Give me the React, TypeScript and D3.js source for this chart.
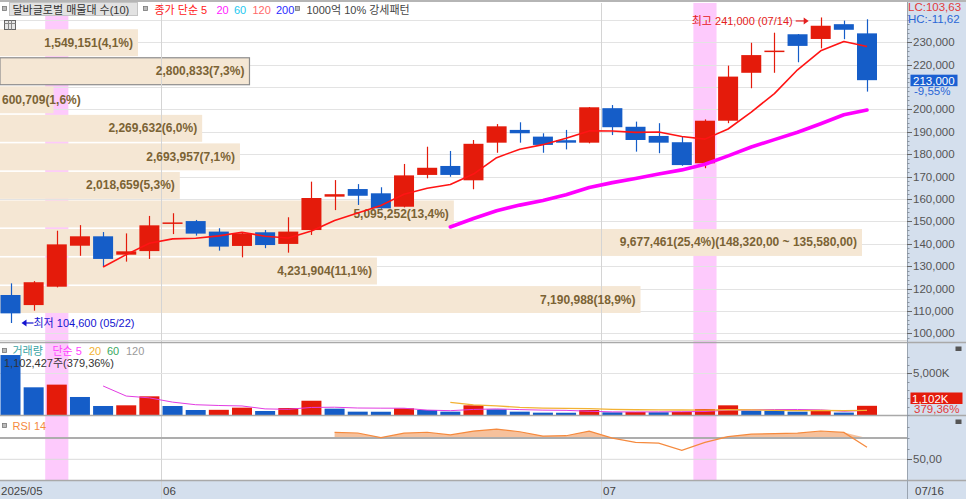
import React from "react";
import * as d3 from "d3";

// ---------------- data ----------------
const YEAR = "2025";
const DATES = [
  "05/22", "05/23", "05/26", "05/27", "05/28", "05/29", "05/30",
  "06/02", "06/04", "06/05", "06/09", "06/10", "06/11", "06/12", "06/13", "06/16", "06/17", "06/18", "06/19", "06/20",
  "06/23", "06/24", "06/25", "06/26", "06/27", "06/30",
  "07/01", "07/02", "07/03", "07/04", "07/07", "07/08", "07/09", "07/10", "07/11", "07/14", "07/15", "07/16",
];
const OPEN = [117100, 112600, 120800, 139100, 143300, 135100, 136700, 149200, 150100, 145400, 139000, 145100, 139900, 146100, 161000, 164400, 162500, 156500, 170700, 174700, 168300, 185100, 190800, 187800, 186200, 185100, 200500, 192200, 188100, 185300, 175900, 194900, 216300, 226000, 233500, 231400, 238000, 233900];
const HIGH = [122300, 123300, 145800, 148300, 145200, 144600, 152400, 153600, 150600, 146900, 145100, 146100, 151800, 167700, 168400, 166600, 165200, 175600, 183300, 181400, 186300, 193400, 194200, 189300, 190800, 201000, 201900, 194500, 193800, 187800, 195500, 219500, 229700, 234200, 233600, 241000, 239600, 240200];
const LOW = [104600, 110100, 120500, 134600, 129700, 132000, 133200, 144300, 143600, 136900, 133900, 138000, 136000, 143900, 155000, 157300, 155600, 156200, 169200, 169900, 164300, 180600, 185100, 180600, 182100, 184800, 188500, 181100, 180400, 174800, 173700, 193800, 209400, 216300, 221000, 227200, 231300, 207900];
const CLOSE = [108900, 122800, 139700, 143300, 133200, 136600, 148200, 149500, 144500, 138700, 144600, 139400, 145400, 160400, 162100, 161400, 155800, 170500, 173900, 170700, 184600, 192400, 189300, 184100, 185100, 200900, 192000, 186300, 185100, 175100, 194900, 214600, 224200, 226200, 228300, 237300, 235500, 213000];
const VOLUME = [7190000, 3320000, 3640000, 2160000, 1080000, 1160000, 2240000, 1080000, 600000, 620000, 880000, 480000, 840000, 1710000, 760000, 400000, 390000, 800000, 600000, 400000, 1160000, 680000, 400000, 280000, 270000, 600000, 320000, 360000, 330000, 360000, 720000, 1160000, 520000, 500000, 400000, 520000, 290600, 1102427];

// strong-pattern (1000억 10% 강세패턴) highlighted candles
const HIGHLIGHT_IDX = [2, 30];

// volume profile (매물대) from top price band downward
const PROFILE_VOLUMES = [1549151, 2800833, 600709, 2269632, 2693957, 2018659, 5095252, 9677461, 4231904, 7190988];
const PROFILE_TOP = 236100;
const PROFILE_STEP = 12740;
const PROFILE_MAX_RANGE = [148320, 135580];

const PRICE_TICKS = d3.range(100000, 240001, 10000);
const VOLUME_TICKS = [5000000];
const RSI_TICKS = [50];

const MA_PERIODS = [5, 20];
const VOL_MA_PERIODS = [5, 20];
const RSI_PERIOD = 14;

// ---------------- helpers ----------------
function sma(arr: number[], n: number): (number | null)[] {
  return arr.map((_, i) => (i < n - 1 ? null : (d3.mean(arr.slice(i - n + 1, i + 1)) as number)));
}
function rsiWilder(c: number[], n: number): (number | null)[] {
  const out: (number | null)[] = c.map(() => null);
  let g = 0, l = 0;
  for (let i = 1; i <= n; i++) {
    const d = c[i] - c[i - 1];
    if (d > 0) g += d; else l -= d;
  }
  g /= n; l /= n;
  out[n] = 100 - 100 / (1 + g / l);
  for (let i = n + 1; i < c.length; i++) {
    const d = c[i] - c[i - 1];
    g = (g * (n - 1) + Math.max(d, 0)) / n;
    l = (l * (n - 1) + Math.max(-d, 0)) / n;
    out[i] = 100 - 100 / (1 + g / l);
  }
  return out;
}
const comma = (s: string) => s.replace(".", ",");
const fmtInt = d3.format(",");
const fmt2 = (v: number) => d3.format(",.2f")(v).replace(/\.(\d+)$/, ",$1");
function approxWidth(s: string) {
  let w = 0;
  for (const ch of s) {
    if (/[0-9]/.test(ch)) w += 6.67;
    else if (ch === "," || ch === "." || ch === " ") w += 3.33;
    else if (ch === "(" || ch === ")") w += 4;
    else if (ch === "%") w += 10.67;
    else w += 7;
  }
  return w;
}

const FONT = "'Liberation Sans', 'Noto Sans CJK KR', Arial, sans-serif";
const RED = "#e41b0b";
const BLUE = "#155dc8";
const AXIS_BG = "#d4dfed";
const PINK = "#fdcafc";
const BEIGE = "#f5e7d4";
const GRID = "#e3e3e3";

export default function App() {
  const W = 966, H = 499;
  const axisX = 907;
  const priceTop = 3, priceBottom = 340;
  const volTop = 343, volBottom = 415;
  const rsiTop = 417, rsiBottom = 480;

  const idx = d3.range(CLOSE.length);
  const x = d3.scalePoint<number>().domain(idx).range([10.5, 867]);
  const step = x.step();
  const bodyW = 20;
  const X = (i: number) => x(i) as number;

  const y = d3.scaleLinear().domain([100000, 200000]).range([333.3, 109.3]);
  const yv = d3.scaleLinear().domain([0, 5000000]).range([volBottom, 373.3]);
  const yr = d3.scaleLinear().domain([50, 70]).range([459.3, 438]);
  const xp = d3.scaleLinear().domain([0, d3.max(PROFILE_VOLUMES) as number]).range([0, 862]);

  const ma5 = sma(CLOSE, MA_PERIODS[0]);
  const ma20 = sma(CLOSE, MA_PERIODS[1]);
  const vma5 = sma(VOLUME, VOL_MA_PERIODS[0]);
  const vma20 = sma(VOLUME, VOL_MA_PERIODS[1]);
  const rsi = rsiWilder(CLOSE, RSI_PERIOD);

  const lineP = d3.line<number | null>().defined((d) => d != null).x((_, i) => X(i)).y((d) => y(d as number));
  const lineV = d3.line<number | null>().defined((d) => d != null).x((_, i) => X(i)).y((d) => yv(d as number));
  const lineR = d3.line<number | null>().defined((d) => d != null).x((_, i) => X(i)).y((d) => yr(d as number));
  const areaR = d3.area<number | null>().defined((d) => d != null).x((_, i) => X(i))
    .y0(yr(70)).y1((d) => yr(Math.max(d as number, 70)));

  const last = CLOSE.length - 1;
  const lastClose = CLOSE[last];
  const minLow = d3.min(LOW) as number;
  const maxHigh = d3.max(HIGH) as number;
  const minIdx = LOW.indexOf(minLow);
  const maxIdx = HIGH.indexOf(maxHigh);
  const lc = (lastClose / minLow - 1) * 100;
  const hc = (lastClose / maxHigh - 1) * 100;
  const chg = (lastClose / CLOSE[last - 1] - 1) * 100;
  const volRatio = (VOLUME[last] / VOLUME[last - 1]) * 100;

  const totalProfile = d3.sum(PROFILE_VOLUMES);
  const maxProfile = d3.max(PROFILE_VOLUMES) as number;

  // month boundaries
  const monthBreaks: { x: number; label: string }[] = [];
  DATES.forEach((d, i) => {
    if (i > 0 && d.slice(0, 2) !== DATES[i - 1].slice(0, 2)) {
      monthBreaks.push({ x: Math.round((X(i - 1) + X(i)) / 2) + 0.5, label: d.slice(0, 2) });
    }
  });

  const curY = y(lastClose);
  const priceLabelTicks = PRICE_TICKS.filter((t) => Math.abs(y(t) - curY) > 10 && y(t) > 28);
  const minorTicks = d3.range(98000, 242001, 2000).filter((t) => y(t) > priceTop + 2 && y(t) < priceBottom);

  const volBoxY = Math.min(yv(VOLUME[last]), volBottom - 17);

  return (
    <div style={{ position: "absolute", left: 0, top: 0 }}>
      <svg width={W} height={H} style={{ display: "block", fontFamily: FONT }}>
        <rect x={0} y={0} width={W} height={H} fill="#fff" />
        <rect x={0} y={0} width={W} height={2} fill="#b5b5b5" />

        {/* right axis / bottom axis backgrounds */}
        <rect x={axisX} y={2} width={W - axisX} height={H - 2} fill={AXIS_BG} />
        <rect x={0} y={rsiBottom + 1} width={W} height={H - rsiBottom - 1} fill={AXIS_BG} />

        {/* highlight columns */}
        {HIGHLIGHT_IDX.map((i) => (
          <rect key={"hl" + i} x={X(i) - step / 2} y={priceTop} width={step} height={rsiBottom - priceTop} fill={PINK} />
        ))}

        {/* price gridlines */}
        {PRICE_TICKS.map((t) => (
          <line key={"g" + t} x1={0} x2={axisX} y1={Math.round(y(t)) + 0.5} y2={Math.round(y(t)) + 0.5} stroke={GRID} />
        ))}

        {/* volume profile */}
        {PROFILE_VOLUMES.map((v, i) => {
          const hi = PROFILE_TOP - i * PROFILE_STEP;
          const lo = hi - PROFILE_STEP;
          const y0 = y(hi) + 0.8;
          const y1 = y(lo) - 0.8;
          const right = xp(v);
          const containsCur = lastClose >= lo && lastClose < hi;
          return (
            <rect key={"pb" + i} x={0} y={y0} width={right} height={y1 - y0} fill={BEIGE}
              stroke={containsCur ? "#8c8c8c" : "none"} strokeWidth={1.2} />
          );
        })}

        {/* vertical month gridlines */}
        {monthBreaks.map((m) => (
          <line key={"vg" + m.label} x1={m.x} x2={m.x} y1={priceTop} y2={H} stroke="#d4d4d4" />
        ))}

        {/* profile labels */}
        {PROFILE_VOLUMES.map((v, i) => {
          const hi = PROFILE_TOP - i * PROFILE_STEP;
          const lo = hi - PROFILE_STEP;
          const cy = (y(hi) + y(lo)) / 2;
          const pct = comma(((v / totalProfile) * 100).toFixed(1));
          let label = `${fmtInt(v)}(${pct}%)`;
          if (v === maxProfile) label += `(${fmt2(PROFILE_MAX_RANGE[0])} ~ ${fmt2(PROFILE_MAX_RANGE[1])})`;
          const right = xp(v);
          const w = approxWidth(label);
          const fits = right - 5 - w >= 2;
          return (
            <text key={"pt" + i} x={fits ? right - 5 : 2} y={cy} textAnchor={fits ? "end" : "start"}
              dominantBaseline="central" fontSize={12} fontWeight={700} fill="#7b6334">
              {label}
            </text>
          );
        })}

        {/* candles */}
        {idx.map((i) => {
          const up = CLOSE[i] >= OPEN[i];
          const c = up ? RED : BLUE;
          const top = y(Math.max(OPEN[i], CLOSE[i]));
          const bot = y(Math.min(OPEN[i], CLOSE[i]));
          const h = Math.max(bot - top, 1.5);
          return (
            <g key={"c" + i}>
              <line x1={Math.round(X(i)) + 0.5} x2={Math.round(X(i)) + 0.5} y1={y(HIGH[i])} y2={y(LOW[i])} stroke={c} strokeWidth={1.2} />
              <rect x={X(i) - bodyW / 2} y={top} width={bodyW} height={h} fill={c} />
            </g>
          );
        })}

        {/* moving averages */}
        <path d={lineP(ma20) || ""} fill="none" stroke="#ff00ff" strokeWidth={3.6} strokeLinejoin="round" strokeLinecap="round" />
        <path d={lineP(ma5) || ""} fill="none" stroke="#ff1414" strokeWidth={1.6} strokeLinejoin="round" />

        {/* high / low annotations */}
        <text x={X(maxIdx) - 28} y={y(maxHigh) + 3.5} textAnchor="end" dominantBaseline="central" fontSize={11} fill="#e42020">
          {`최고 ${fmtInt(maxHigh)} (${DATES[maxIdx]})`}
        </text>
        <line x1={X(maxIdx) - 25} x2={X(maxIdx) - 14} y1={y(maxHigh) + 3.5} y2={y(maxHigh) + 3.5} stroke="#e42020" strokeWidth={1.2} />
        <path d={`M${X(maxIdx) - 12},${y(maxHigh) + 3.5} l-5,-3.5 l0,7 z`} fill="#e42020" />

        <path d={`M${X(minIdx) + 11},${y(minLow)} l5,-3.5 l0,7 z`} fill="#1414d0" />
        <line x1={X(minIdx) + 14} x2={X(minIdx) + 23} y1={y(minLow)} y2={y(minLow)} stroke="#1414d0" strokeWidth={1.2} />
        <text x={X(minIdx) + 23} y={y(minLow)} dominantBaseline="central" fontSize={11} fill="#1414d0">
          {`최저 ${fmtInt(minLow)} (${DATES[minIdx]})`}
        </text>

        {/* header */}
        <rect x={2.5} y={6.5} width={4} height={4} fill="#bbb" stroke="#777" strokeWidth={0.8} />
        <rect x={9.5} y={2.5} width={128} height={13} fill="#e2e2e2" stroke="#c4c4c4" />
        <text x={12.5} y={9.5} dominantBaseline="central" fontSize={11} fill="#333">달바글로벌 매물대 수(10)</text>
        <rect x={143.5} y={6.5} width={4} height={4} fill="#bbb" stroke="#777" strokeWidth={0.8} />
        <text y={9.5} dominantBaseline="central" fontSize={11}>
          <tspan x={154.5} fill="#ff2020">종가 단순 5</tspan>
          <tspan x={216.5} fill="#ff20ff">20</tspan>
          <tspan x={234} fill="#22c8f0">60</tspan>
          <tspan x={252.5} fill="#ff6a6a">120</tspan>
          <tspan x={276} fill="#2a2aff">200</tspan>
        </text>
        <rect x={295.5} y={6.5} width={4} height={4} fill="#bbb" stroke="#777" strokeWidth={0.8} />
        <text x={306.5} y={9.5} dominantBaseline="central" fontSize={11} fill="#444">1000억 10% 강세패턴</text>
        {/* table icon */}
        <rect x={4.5} y={20.5} width={11} height={9} fill="#e6e6e6" stroke="#666" />
        <line x1={4.5} x2={15.5} y1={23.5} y2={23.5} stroke="#888" />
        <line x1={8.5} x2={8.5} y1={20.5} y2={29.5} stroke="#888" />
        <line x1={11.5} x2={11.5} y1={20.5} y2={29.5} stroke="#888" />

        {/* price panel separator */}
        <line x1={0} x2={axisX} y1={340.5} y2={340.5} stroke="#dcdcdc" />
        <line x1={0} x2={W} y1={342.5} y2={342.5} stroke="#a9a9a9" strokeWidth={1.5} />

        {/* ---------- volume panel ---------- */}
        {VOLUME_TICKS.map((t) => (
          <line key={"vgl" + t} x1={0} x2={axisX} y1={Math.round(yv(t)) + 0.5} y2={Math.round(yv(t)) + 0.5} stroke={GRID} />
        ))}
        {idx.map((i) => {
          const upV = i === 0 ? false : VOLUME[i] > VOLUME[i - 1];
          const top = Math.max(yv(VOLUME[i]), volTop + 1);
          return (
            <rect key={"v" + i} x={X(i) - bodyW / 2} y={top} width={bodyW} height={volBottom - top}
              fill={upV ? RED : BLUE} />
          );
        })}
        <path d={lineV(vma5) || ""} fill="none" stroke="#e23ce2" strokeWidth={1} />
        <path d={lineV(vma20) || ""} fill="none" stroke="#f2b233" strokeWidth={1.3} />
        <rect x={2.5} y={348.5} width={4} height={4} fill="#bbb" stroke="#777" strokeWidth={0.8} />
        <text y={350.5} dominantBaseline="central" fontSize={11}>
          <tspan x={12.5} fill="#38a3a5">거래량</tspan>
          <tspan x={52.5} fill="#ff44ff">단순 5</tspan>
          <tspan x={89} fill="#f2b233">20</tspan>
          <tspan x={107} fill="#3aa860">60</tspan>
          <tspan x={126} fill="#9a9a9a">120</tspan>
        </text>
        <text x={4} y={362.5} dominantBaseline="central" fontSize={11} fill="#333">
          {`${fmtInt(VOLUME[last])}주(${comma(volRatio.toFixed(2))}%)`}
        </text>
        <line x1={0} x2={W} y1={volBottom + 0.5} y2={volBottom + 0.5} stroke="#a9a9a9" strokeWidth={1.5} />

        {/* ---------- RSI panel ---------- */}
        <line x1={0} x2={axisX} y1={yr(50)} y2={yr(50)} stroke="#dadada" />
        <path d={areaR(rsi) || ""} fill="#f6c19c" />
        <line x1={0} x2={axisX} y1={yr(70)} y2={yr(70)} stroke="#adadad" strokeWidth={2} />
        <path d={lineR(rsi) || ""} fill="none" stroke="#f58a3e" strokeWidth={1.2} />
        <rect x={2.5} y={423.5} width={4} height={4} fill="#bbb" stroke="#777" strokeWidth={0.8} />
        <text x={12.5} y={425.5} dominantBaseline="central" fontSize={11} fill="#f58a3e">RSI 14</text>
        <line x1={0} x2={W} y1={rsiBottom + 0.5} y2={rsiBottom + 0.5} stroke="#a9a9a9" strokeWidth={1.5} />

        {/* ---------- right axis ---------- */}
        <line x1={axisX + 0.5} x2={axisX + 0.5} y1={2} y2={H} stroke="#9aa4b0" />
        {minorTicks.map((t) => (
          <line key={"mt" + t} x1={axisX} x2={axisX + 2.5} y1={Math.round(y(t)) + 0.5} y2={Math.round(y(t)) + 0.5} stroke="#8a94a0" />
        ))}
        {priceLabelTicks.map((t) => (
          <g key={"pl" + t}>
            <line x1={axisX} x2={axisX + 5} y1={Math.round(y(t)) + 0.5} y2={Math.round(y(t)) + 0.5} stroke="#666" />
            <text x={axisX + 6} y={y(t)} dominantBaseline="central" fontSize={11.5} fill="#555">{fmtInt(t)}</text>
          </g>
        ))}
        <text x={axisX + 1} y={7} dominantBaseline="central" fontSize={11.5} fill="#e23a3a">{`LC:${comma(lc.toFixed(2))}`}</text>
        <text x={axisX + 1} y={18.5} dominantBaseline="central" fontSize={11.5} fill="#2a66d6">{`HC:${comma(hc.toFixed(2))}`}</text>
        <rect x={axisX + 3.5} y={curY - 5.5} width={47} height={11.5} fill="#1a5fd2" />
        <text x={axisX + 6} y={curY + 0.5} dominantBaseline="central" fontSize={11.5} fill="#fff">{fmtInt(lastClose)}</text>
        <text x={axisX + 7} y={curY + 11} dominantBaseline="central" fontSize={11.5} fill="#2a66d6">{`${comma(chg.toFixed(2))}%`}</text>

        {/* volume axis */}
        {d3.range(0, 7000001, 1000000).filter((t) => yv(t) > volTop + 2).map((t) => (
          <line key={"vmt" + t} x1={axisX} x2={axisX + 2.5} y1={Math.round(yv(t)) + 0.5} y2={Math.round(yv(t)) + 0.5} stroke="#8a94a0" />
        ))}
        {VOLUME_TICKS.map((t) => (
          <g key={"vl" + t}>
            <line x1={axisX} x2={axisX + 5} y1={Math.round(yv(t)) + 0.5} y2={Math.round(yv(t)) + 0.5} stroke="#666" />
            <text x={axisX + 6} y={yv(t)} dominantBaseline="central" fontSize={11.5} fill="#555">{`${fmtInt(t / 1000)}K`}</text>
          </g>
        ))}
        <rect x={axisX + 3.5} y={volBoxY - 5.5} width={52} height={11.5} fill="#e41b0b" />
        <text x={axisX + 5} y={volBoxY + 0.5} dominantBaseline="central" fontSize={11.5} fill="#fff">{`${fmtInt(Math.round(VOLUME[last] / 1000))}K`}</text>
        <text x={axisX + 7} y={volBoxY + 11} dominantBaseline="central" fontSize={11.5} fill="#e23a3a">{`${comma(volRatio.toFixed(2))}%`}</text>
        <rect x={955.5} y={346.5} width={6} height={4.5} fill="#555" />

        {/* rsi axis */}
        {[60, 70, 80].map((t) => (
          <line key={"rmt" + t} x1={axisX} x2={axisX + 2.5} y1={Math.round(yr(t)) + 0.5} y2={Math.round(yr(t)) + 0.5} stroke="#8a94a0" />
        ))}
        {RSI_TICKS.map((t) => (
          <g key={"rl" + t}>
            <line x1={axisX} x2={axisX + 5} y1={Math.round(yr(t)) + 0.5} y2={Math.round(yr(t)) + 0.5} stroke="#666" />
            <text x={axisX + 6} y={yr(t)} dominantBaseline="central" fontSize={11.5} fill="#555">{comma(t.toFixed(2))}</text>
          </g>
        ))}
        <rect x={955.5} y={419.5} width={6} height={4.5} fill="#555" />

        {/* ---------- date axis ---------- */}
        <text x={1} y={491} dominantBaseline="central" fontSize={11.5} fill="#444">{`${YEAR}/${DATES[0].slice(0, 2)}`}</text>
        {monthBreaks.map((m) => (
          <text key={"ml" + m.label} x={m.x + 1.5} y={491} dominantBaseline="central" fontSize={11.5} fill="#444">{m.label}</text>
        ))}
        <text x={axisX + 8} y={491} dominantBaseline="central" fontSize={11.5} fill="#444">{DATES[last]}</text>
      </svg>
    </div>
  );
}
